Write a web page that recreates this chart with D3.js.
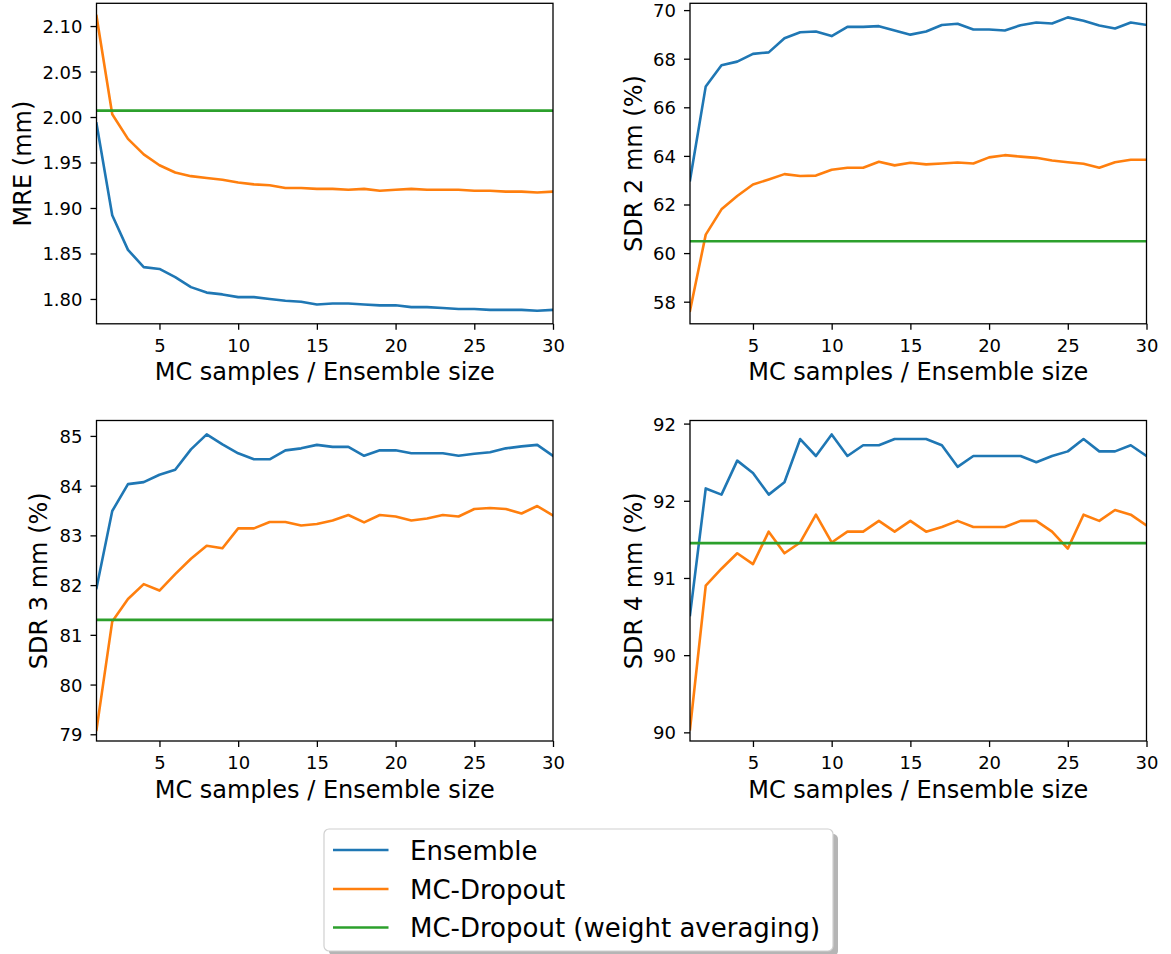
<!DOCTYPE html>
<html>
<head>
<meta charset="utf-8">
<script src="https://cdn.jsdelivr.net/npm/d3@7"></script>
<style>
  html, body { margin: 0; padding: 0; background: #fff; }
  svg { display: block; font-family: "DejaVu Sans", sans-serif; }
</style>
</head>
<body>
<svg id="chart" width="1171" height="954"></svg>
<script>
// ---------------- DATA ----------------
const sizes = [1,2,3,4,5,6,7,8,9,10,11,12,13,14,15,16,17,18,19,20,21,22,23,24,25,26,27,28,29,30];
const xTicks = [5, 10, 15, 20, 25, 30];
const seriesNames = ["Ensemble", "MC-Dropout", "MC-Dropout (weight averaging)"];

// MRE (mm)
const mreEnsemble = [1.993,1.892,1.854,1.835,1.833,1.824,1.813,1.807,1.805,1.802,1.802,1.800,1.798,1.797,1.794,1.795,1.795,1.794,1.793,1.793,1.791,1.791,1.790,1.789,1.789,1.788,1.788,1.788,1.787,1.788];
const mreDropout  = [2.111,2.003,1.976,1.959,1.947,1.939,1.935,1.933,1.931,1.928,1.926,1.925,1.922,1.922,1.921,1.921,1.920,1.921,1.919,1.920,1.921,1.920,1.920,1.920,1.919,1.919,1.918,1.918,1.917,1.918];
const mreWeightAvg = 2.007;
const mreTicks = [1.80, 1.85, 1.90, 1.95, 2.00, 2.05, 2.10];
const mreTickLabels = ["1.80", "1.85", "1.90", "1.95", "2.00", "2.05", "2.10"];

// SDR 2 mm (%)
const sdr2Ensemble = [63.0,66.86,67.73,67.88,68.20,68.26,68.84,69.09,69.12,68.93,69.31,69.31,69.34,69.16,68.99,69.12,69.39,69.44,69.20,69.20,69.16,69.38,69.49,69.45,69.70,69.56,69.37,69.24,69.49,69.39];
const sdr2Dropout  = [57.63,60.76,61.80,62.35,62.82,63.03,63.25,63.17,63.19,63.43,63.51,63.51,63.76,63.61,63.72,63.65,63.69,63.73,63.69,63.94,64.03,63.97,63.92,63.81,63.74,63.68,63.51,63.74,63.84,63.84];
const sdr2WeightAvg = 60.49;
const sdr2Ticks = [58, 60, 62, 64, 66, 68, 70];
const sdr2TickLabels = ["58", "60", "62", "64", "66", "68", "70"];

// SDR 3 mm (%)
const sdr3Ensemble = [81.94,83.49,84.03,84.07,84.22,84.32,84.73,85.03,84.83,84.65,84.53,84.53,84.71,84.75,84.82,84.78,84.78,84.60,84.71,84.71,84.65,84.65,84.65,84.60,84.64,84.67,84.75,84.79,84.82,84.60];
const sdr3Dropout  = [79.09,81.27,81.72,82.02,81.89,82.22,82.53,82.79,82.74,83.14,83.14,83.27,83.27,83.20,83.23,83.30,83.41,83.26,83.41,83.38,83.30,83.34,83.41,83.38,83.53,83.55,83.53,83.44,83.59,83.40];
const sdr3WeightAvg = 81.30;
const sdr3Ticks = [79, 80, 81, 82, 83, 84, 85];
const sdr3TickLabels = ["79", "80", "81", "82", "83", "84", "85"];

// SDR 4 mm (%)
const sdr4Ensemble = [90.76,91.58,91.54,91.76,91.68,91.54,91.62,91.90,91.79,91.93,91.79,91.86,91.86,91.90,91.90,91.90,91.86,91.72,91.79,91.79,91.79,91.79,91.75,91.79,91.82,91.90,91.82,91.82,91.86,91.79];
const sdr4Dropout  = [90.02,90.95,91.06,91.16,91.09,91.30,91.16,91.23,91.41,91.23,91.30,91.30,91.37,91.30,91.37,91.30,91.33,91.37,91.33,91.33,91.33,91.37,91.37,91.30,91.19,91.41,91.37,91.44,91.41,91.34];
const sdr4WeightAvg = 91.226;
const sdr4Ticks = [90, 90.5, 91, 91.5, 92];
const sdr4TickLabels = ["90", "90", "91", "92", "92"];

// ---------------- LAYOUT / STYLE ----------------
const colors = ["#1f77b4", "#ff7f0e", "#2ca02c"];
const panels = [
  { label: "MRE (mm)",     ens: mreEnsemble,  mc: mreDropout,  wa: mreWeightAvg,  ticks: mreTicks,  labels: mreTickLabels,  ydom: [1.7727, 2.125], x0: 96.5, y0: 3.3,   ylabX: 31 },
  { label: "SDR 2 mm (%)", ens: sdr2Ensemble, mc: sdr2Dropout, wa: sdr2WeightAvg, ticks: sdr2Ticks, labels: sdr2TickLabels, ydom: [57.09, 70.28], x0: 690,  y0: 3.3,   ylabX: 642 },
  { label: "SDR 3 mm (%)", ens: sdr3Ensemble, mc: sdr3Dropout, wa: sdr3WeightAvg, ticks: sdr3Ticks, labels: sdr3TickLabels, ydom: [78.865, 85.31], x0: 96.5, y0: 420.5, ylabX: 47 },
  { label: "SDR 4 mm (%)", ens: sdr4Ensemble, mc: sdr4Dropout, wa: sdr4WeightAvg, ticks: sdr4Ticks, labels: sdr4TickLabels, ydom: [89.944, 92.02], x0: 690,  y0: 420.5, ylabX: 642 }
];
const PW = 456.5, PH = 320.5;
const tickFont = 18, labelFont = 24;

const svg = d3.select("#chart");

panels.forEach((p, idx) => {
  const g = svg.append("g").attr("transform", `translate(${p.x0},${p.y0})`);
  const x = d3.scaleLinear().domain([1, 30]).range([0, PW]);
  const y = d3.scaleLinear().domain(p.ydom).range([PH, 0]);

  const clipId = "clip" + idx;
  g.append("clipPath").attr("id", clipId)
    .append("rect").attr("x", 0).attr("y", 0).attr("width", PW).attr("height", PH);

  const plot = g.append("g").attr("clip-path", `url(#${clipId})`);
  const line = d3.line().x((d, i) => x(sizes[i])).y(d => y(d));

  plot.append("path").datum(p.ens).attr("d", line)
    .attr("fill", "none").attr("stroke", colors[0]).attr("stroke-width", 2.6).attr("stroke-linejoin", "round").attr("stroke-linecap", "square");
  plot.append("path").datum(p.mc).attr("d", line)
    .attr("fill", "none").attr("stroke", colors[1]).attr("stroke-width", 2.6).attr("stroke-linejoin", "round").attr("stroke-linecap", "square");
  const waLine = sizes.map(() => p.wa);
  plot.append("path").datum(waLine).attr("d", line)
    .attr("fill", "none").attr("stroke", colors[2]).attr("stroke-width", 2.6);

  // x axis
  const xAxis = d3.axisBottom(x).tickValues(xTicks).tickSize(6).tickPadding(4).tickFormat(d3.format("d"));
  const xg = g.append("g").attr("transform", `translate(0,${PH})`).call(xAxis);
  xg.select(".domain").remove();
  xg.selectAll(".tick line").attr("stroke", "#000").attr("stroke-width", 1.3);
  xg.selectAll(".tick text").attr("font-size", tickFont).attr("font-family", "DejaVu Sans").attr("fill", "#000")
    .attr("y", 28).attr("dy", 0);

  // y axis
  const yAxis = d3.axisLeft(y).tickValues(p.ticks).tickSize(6).tickPadding(8)
    .tickFormat((d, i) => p.labels[i]);
  const yg = g.append("g").call(yAxis);
  yg.select(".domain").remove();
  yg.selectAll(".tick line").attr("stroke", "#000").attr("stroke-width", 1.3);
  yg.selectAll(".tick text").attr("font-size", tickFont).attr("font-family", "DejaVu Sans").attr("fill", "#000")
    .attr("x", -14).attr("dy", "0.36em");

  // frame
  g.append("rect").attr("x", 0).attr("y", 0).attr("width", PW).attr("height", PH)
    .attr("fill", "none").attr("stroke", "#000").attr("stroke-width", 1.3);

  // axis labels
  g.append("text").attr("x", PW / 2).attr("y", PH + 56.5)
    .attr("text-anchor", "middle").attr("font-size", labelFont).attr("fill", "#000")
    .text("MC samples / Ensemble size");
  svg.append("text")
    .attr("transform", `translate(${p.ylabX},${p.y0 + PH / 2}) rotate(-90)`)
    .attr("text-anchor", "middle").attr("font-size", labelFont).attr("fill", "#000")
    .text(p.label);
});

// ---------------- LEGEND ----------------
const lg = svg.append("g").attr("transform", "translate(324,829)");
const LW = 509, LH = 122;
lg.append("rect").attr("x", 5).attr("y", 5).attr("width", LW).attr("height", LH).attr("rx", 5)
  .attr("fill", "#b5b5b5");
lg.append("rect").attr("x", 0).attr("y", 0).attr("width", LW).attr("height", LH).attr("rx", 5)
  .attr("fill", "#fff").attr("stroke", "#d0d0d0").attr("stroke-width", 1.2);
const rowY = [21, 60, 98.5];
seriesNames.forEach((name, i) => {
  lg.append("line").attr("x1", 9).attr("x2", 64.5).attr("y1", rowY[i]).attr("y2", rowY[i])
    .attr("stroke", colors[i]).attr("stroke-width", 2.6);
  lg.append("text").attr("x", 86).attr("y", rowY[i] + 9.5)
    .attr("font-size", 26).attr("fill", "#000").text(name);
});
</script>
</body>
</html>
